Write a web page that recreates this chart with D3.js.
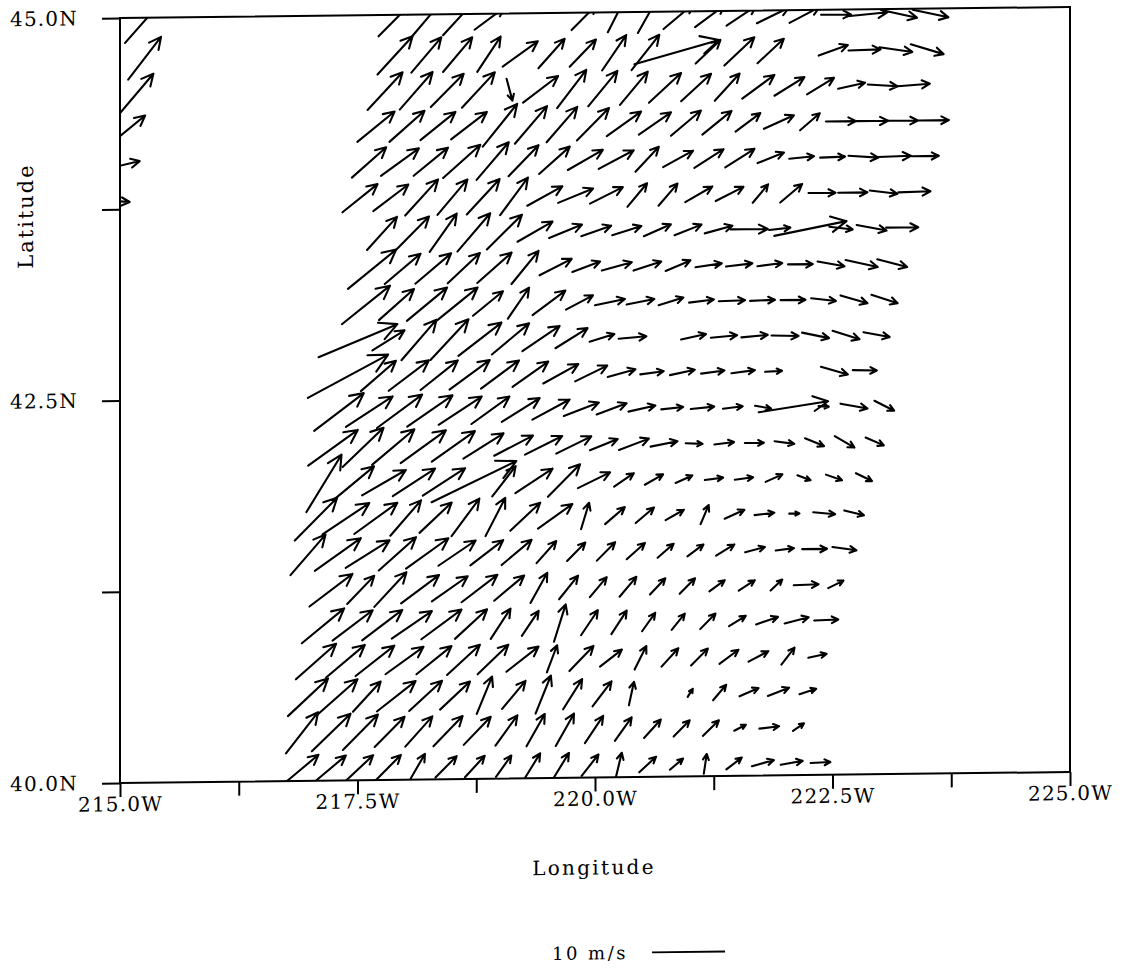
<!DOCTYPE html>
<html>
<head>
<meta charset="utf-8">
<script src="https://cdn.jsdelivr.net/npm/d3@7"></script>
<style>
  body { margin: 0; background: #fff; }
  text { font-family: "DejaVu Serif", serif; fill: #000; }
</style>
</head>
<body>
<div id="chart"></div>
<script>
// wind vectors, one row per grid latitude (bottom to top), u / v in m/s
var N = null;

var rowLat = [40.081, 40.314, 40.546, 40.779, 41.012, 41.244, 41.477, 41.710, 41.943, 42.175, 42.408,
              42.641, 42.873, 43.106, 43.339, 43.572, 43.804, 44.037, 44.270, 44.502, 44.735, 44.968];

// longitude of the first cell of each row and the grid step along the row
var rowLon0 = [216.916, 216.916, 216.979, 217.063, 217.137, 217.221, 216.979, 217.063, 217.147, 217.242, 217.305,
               217.400, 217.505, 217.589, 217.653, 217.758, 214.933, 215.019, 215.084, 215.171, 215.259, 215.242];
var rowDlon = [0.3032, 0.3074, 0.3095, 0.3105, 0.3116, 0.3126, 0.3137, 0.3147, 0.3158, 0.3168, 0.3189,
               0.3200, 0.3211, 0.3211, 0.3221, 0.3221, 0.3242, 0.3253, 0.3263, 0.3274, 0.3295, 0.3316];

var rowU = [
  [4.5, 4.1, 3.7, 3.4, 2.1, 2.9, 2.7, 2.1, 2.1, 2.1, 2.3, 0.8, 2.3, 1.8, 0.4, 2.1, 3.0, 3.0, 2.7],
  [4.4, 5.3, 4.8, 4.1, 3.7, 4.0, 3.7, 3.0, 2.5, 2.5, 2.5, 2.3, 2.3, 2.2, 2.2, 1.6, 2.7, 1.5],
  [5.5, 5.5, 3.8, 5.3, 4.5, 4.1, 2.1, 3.2, 2.1, 2.6, 2.6, 0.7, N, 0.7, 1.8, 2.6, 2.9, 2.3],
  [5.5, 5.3, 5.3, 5.2, 4.8, 4.5, 4.2, 4.4, 1.4, 3.3, 3.0, 1.6, 2.3, 2.3, 2.6, 2.7, 1.8, 2.5],
  [5.8, 5.5, 5.5, 5.5, 5.5, 4.4, 2.7, 2.3, 1.6, 2.3, 2.1, 1.8, 1.8, 2.1, 2.3, 3.0, 3.3, 3.3],
  [5.9, 3.7, 4.4, 5.2, 4.9, 4.9, 4.1, 2.3, 2.6, 2.3, 2.3, 2.1, 2.1, 2.1, 2.2, 1.6, 3.4, 2.1],
  [4.8, 6.3, 6.0, 5.1, 5.8, 5.1, 4.5, 4.1, 2.7, 2.5, 2.5, 2.5, 2.2, 2.2, 2.5, 2.7, 2.5, 3.4, 3.3],
  [5.8, 6.4, 5.9, 4.2, 4.4, 3.8, 2.7, 4.1, 4.7, 1.1, 2.7, 2.5, 2.5, 1.1, 2.7, 2.7, 1.4, 3.0, 2.7],
  [4.8, 5.5, 6.0, 5.8, 5.8, 11.6, 3.2, 5.1, 4.4, 4.4, 2.7, 2.5, 2.3, 2.5, 2.5, 2.3, 1.8, 2.2, 2.2],
  [6.8, 5.6, 5.8, 6.2, 5.9, 5.5, 5.3, 5.1, 4.8, 3.8, 4.1, 3.7, 2.3, 2.7, 2.6, 2.7, 2.6, 2.7, 2.5],
  [6.8, 6.4, 6.2, 6.2, 5.9, 5.2, 5.2, 5.1, 4.8, 4.1, 3.7, 3.0, 3.2, 2.7, 2.2, 9.5, 1.4, 3.7, 2.7],
  [11.0, 4.8, 5.5, 5.1, 5.5, 5.2, 4.9, 4.8, 4.4, 3.8, 3.2, 3.4, 3.2, 3.2, 2.3, N, 3.7, 3.3],
  [10.8, 4.4, 4.8, 5.2, 5.9, 5.1, 5.1, 4.4, 3.4, 3.8, N, 3.4, 3.6, 3.6, 3.7, 3.7, 3.7, 3.6],
  [6.6, 4.8, 5.5, 5.5, 4.1, 2.9, 4.5, 3.7, 4.1, 3.8, 3.4, 3.4, 3.6, 3.4, 3.4, 3.4, 3.7, 3.6],
  [6.6, 4.9, 4.9, 4.4, 4.7, 3.7, 4.4, 3.8, 4.1, 3.8, 3.4, 3.6, 3.6, 3.4, 3.4, 3.7, 4.4, 4.1],
  [4.1, 4.5, 3.7, 4.5, 4.8, 4.8, 4.5, 4.1, 4.0, 3.7, 3.7, 3.8, 5.1, 2.9, 9.9, 3.2, 4.1, 4.4],
  [4.4, N, N, N, N, N, N, N, 4.8, 4.8, 4.5, 4.1, 4.5, 3.8, 4.8, 4.8, 4.5, 2.7, 2.6, 3.7, 3.8, 2.1, 3.0, 3.7, 4.0, 3.8, 4.4],
  [4.9, N, N, N, N, N, N, N, 4.7, 5.2, 4.7, 5.1, 4.4, 4.1, 4.2, 4.8, 4.8, 3.2, 4.1, 4.0, 4.0, 3.6, 3.4, 3.4, 4.1, 4.5, 3.7],
  [4.7, N, N, N, N, N, N, N, 5.1, 4.8, 4.8, 4.9, 4.7, 4.4, 4.2, 4.4, 4.7, 4.4, 4.1, 4.0, 3.4, 4.1, 2.7, 4.1, 4.4, 4.1, 4.1],
  [4.7, N, N, N, N, N, N, N, 4.8, 4.5, 4.5, 4.5, 0.8, 4.8, 4.0, 4.0, 3.8, 4.4, 4.1, 3.4, 4.4, 4.1, 3.7, 3.7, 4.1, 4.4],
  [4.5, N, N, N, N, N, N, N, 4.8, 4.1, 4.0, 3.2, 4.8, 3.6, 3.6, 3.3, 3.8, 11.6, 3.4, 4.1, 3.6, N, 4.0, 4.4, 4.5, 4.5],
  [4.9, N, N, N, N, N, N, N, 4.5, 4.1, 4.1, 4.1, N, N, 3.4, 2.1, 2.5, 4.1, 4.1, 4.1, 4.4, 4.1, 4.1, 5.5, 4.9, 4.9]
];

var rowV = [
  [3.7, 3.4, 3.4, 3.4, 3.6, 2.9, 2.9, 2.9, 3.4, 3.4, 2.9, 3.3, 2.1, 1.5, 2.7, 1.6, 0.8, 0.5, 0.1],
  [5.6, 5.1, 4.8, 4.1, 4.1, 4.1, 3.8, 4.1, 4.4, 4.4, 3.7, 3.2, 2.5, 2.2, 2.1, 0.8, 0.3, 1.0],
  [5.1, 4.8, 4.1, 4.1, 4.1, 3.8, 5.1, 3.8, 5.2, 4.1, 3.4, 3.2, N, 1.1, 2.1, 1.1, 1.1, 0.7],
  [4.8, 4.4, 4.1, 3.7, 3.8, 4.1, 4.0, 3.4, 3.7, 3.4, 2.3, 3.2, 2.5, 2.3, 1.9, 1.4, 2.3, 0.5],
  [4.7, 4.1, 4.1, 3.7, 4.0, 4.0, 4.1, 3.4, 5.1, 3.4, 3.2, 2.5, 2.2, 2.1, 1.4, 1.0, 0.8, 0.1],
  [4.4, 3.8, 4.7, 3.8, 3.4, 3.7, 3.4, 4.1, 3.2, 2.7, 2.7, 2.2, 2.1, 1.5, 1.4, 1.5, 0.1, 1.0],
  [5.5, 4.4, 3.7, 4.5, 4.1, 3.4, 3.4, 3.4, 3.0, 2.5, 2.5, 2.2, 1.9, 1.6, 1.5, 0.7, 0.3, 0, -0.5],
  [5.8, 4.2, 4.2, 4.8, 4.1, 5.1, 5.2, 3.8, 3.3, 3.6, 2.3, 2.1, 1.4, 2.6, 1.2, 0.3, 0, -0.3, -0.7],
  [7.8, 4.5, 3.4, 3.7, 3.7, 5.5, 4.1, 3.3, 4.4, 2.1, 1.8, 1.4, 1.0, 0.3, 0.3, 1.0, -0.7, -0.8, -1.1],
  [4.8, 5.3, 4.8, 4.4, 4.1, 3.4, 2.7, 2.5, 2.3, 1.5, 1.5, 0.7, -0.1, 0.3, 0, -0.4, -1.1, -1.6, -1.1],
  [5.1, 4.1, 4.5, 4.2, 3.8, 3.7, 3.2, 2.7, 1.8, 1.5, 0.8, 0.3, 0.3, 0.3, -0.4, 1.4, -0.1, -0.7, -1.4],
  [5.8, 4.1, 4.1, 4.0, 4.0, 3.8, 3.4, 2.6, 2.1, 1.0, 0.4, 0.7, 0.4, 0.4, 0.1, N, -1.1, -0.1],
  [4.4, 2.7, 5.5, 5.5, 4.5, 4.2, 3.4, 2.7, 1.0, 0.3, N, 0.7, 0.3, 0.3, -0.1, -0.8, -1.2, -0.7],
  [5.2, 4.2, 4.5, 4.4, 3.3, 4.2, 3.3, 1.9, 0.8, 0.7, 1.0, 0.4, 0.1, 0.1, 0, -0.4, -1.1, -1.2],
  [5.3, 4.1, 4.1, 4.1, 4.1, 4.5, 2.2, 1.4, 1.1, 1.2, 1.4, 0.5, 0.4, 0.4, 0, -0.7, -1.0, -1.1],
  [4.5, 4.5, 5.2, 5.2, 4.7, 2.7, 1.8, 1.4, 1.2, 1.6, 1.4, 1.0, 0, 0.3, 1.9, -0.4, -0.8, 0],
  [-0.3, N, N, N, N, N, N, N, 3.8, 3.6, 4.9, 4.8, 4.8, 5.1, 2.6, 1.9, 2.2, 3.2, 3.0, 2.1, 1.9, 2.5, 2.5, 0, 0, -0.5, 0.1],
  [1.1, N, N, N, N, N, N, N, 4.1, 3.7, 3.8, 4.5, 5.1, 4.2, 3.7, 2.7, 2.5, 3.4, 2.2, 2.5, 2.5, 1.4, 0.3, 0.1, -0.3, 0.1, 0],
  [3.8, N, N, N, N, N, N, N, 4.1, 4.2, 3.8, 3.7, 5.8, 5.1, 4.8, 4.4, 3.3, 3.0, 3.4, 3.2, 2.5, 1.8, 2.3, 0, 0, 0, 0],
  [5.5, N, N, N, N, N, N, N, 5.1, 5.1, 4.5, 4.8, -3.0, 3.6, 5.2, 4.8, 4.5, 4.0, 3.7, 3.7, 3.2, 2.5, 2.2, 0.8, -0.3, 0.3],
  [5.8, N, N, N, N, N, N, N, 5.2, 4.8, 4.7, 4.8, 3.4, 4.0, 3.7, 4.8, 4.8, 3.2, 3.2, 3.8, 3.3, N, 1.4, 0.1, -0.7, -1.4],
  [5.5, N, N, N, N, N, N, N, 4.5, 4.8, 4.4, 3.0, N, N, 3.4, 4.1, 4.4, 3.4, 3.0, 2.7, 2.1, 2.1, 0, 0.5, -1.1, -1.1]
];

// axis ticks
var xTicks = [215, 216.25, 217.5, 218.75, 220, 221.25, 222.5, 223.75, 225];
var xLabels = [215, 217.5, 220, 222.5, 225];
var yTicks = [40, 41.25, 42.5, 43.75, 45];
var yLabels = [40, 42.5, 45];
var refSpeed = 10;

var svgWidth = 1124, svgHeight = 970;
var margin = {top: 18, right: 54, bottom: 187, left: 120};
var width = svgWidth - margin.left - margin.right;
var height = svgHeight - margin.top - margin.bottom;

var svg = d3.select("#chart").append("svg")
    .attr("width", svgWidth)
    .attr("height", svgHeight);

// the original page is a slightly sheared scan
var page = svg.append("g")
    .attr("transform", "translate(120,0) skewY(-0.663) translate(-120,0)");

var chartGroup = page.append("g")
    .attr("transform", `translate(${margin.left}, ${margin.top})`);

var xScale = d3.scaleLinear().domain([215, 225]).range([0, width]);
var yScale = d3.scaleLinear().domain([40, 45]).range([height, 0]);
var vScale = d3.scaleLinear().domain([0, 10]).range([0, 73]);

// flatten the rows into vectors
var vectors = [];
rowLat.forEach((lat, j) => {
    rowU[j].forEach((u, i) => {
        if (u === null) return;
        vectors.push({lon: rowLon0[j] + i * rowDlon[j], lat: lat, u: u, v: rowV[j][i]});
    });
});

// arrow centred on its grid point, head size grows with length
function arrowPath(cx, cy, dx, dy) {
    var len = Math.sqrt(dx * dx + dy * dy);
    if (len < 0.5) return "";
    var tx = cx - dx / 2, ty = cy - dy / 2;
    var hx = cx + dx / 2, hy = cy + dy / 2;
    var h = 0.2 * len + 2.5;
    var ang = Math.atan2(dy, dx), a = 27 * Math.PI / 180;
    var b1x = hx - h * Math.cos(ang - a), b1y = hy - h * Math.sin(ang - a);
    var b2x = hx - h * Math.cos(ang + a), b2y = hy - h * Math.sin(ang + a);
    return `M${tx},${ty}L${hx},${hy}M${b1x},${b1y}L${hx},${hy}L${b2x},${b2y}`;
}

chartGroup.append("clipPath").attr("id", "plotClip")
  .append("rect").attr("width", width).attr("height", height);

chartGroup.append("g")
    .attr("clip-path", "url(#plotClip)")
  .selectAll("path")
    .data(vectors)
    .enter()
    .append("path")
    .attr("d", d => arrowPath(xScale(d.lon), yScale(d.lat), vScale(d.u), -vScale(d.v)))
    .attr("fill", "none")
    .attr("stroke", "#000")
    .attr("stroke-width", 2.1)
    .attr("stroke-linecap", "round")
    .attr("stroke-linejoin", "round");

// frame
chartGroup.append("rect")
    .attr("width", width)
    .attr("height", height)
    .attr("fill", "none")
    .attr("stroke", "#000")
    .attr("stroke-width", 2);

// axes
var xAxis = d3.axisBottom(xScale)
    .tickValues(xTicks)
    .tickSize(14)
    .tickPadding(0)
    .tickFormat(d => xLabels.indexOf(d) >= 0 ? d3.format(".1f")(d) + "W" : "");

var yAxis = d3.axisLeft(yScale)
    .tickValues(yTicks)
    .tickSize(18)
    .tickPadding(24)
    .tickFormat(d => yLabels.indexOf(d) >= 0 ? d3.format(".1f")(d) + "N" : "");

var gx = chartGroup.append("g")
    .attr("transform", `translate(0, ${height})`)
    .call(xAxis);

var gy = chartGroup.append("g")
    .call(yAxis);

[gx, gy].forEach(g => {
    g.select(".domain").remove();
    g.selectAll(".tick line").attr("stroke", "#000").attr("stroke-width", 2);
    g.selectAll(".tick text")
        .attr("fill", "#000")
        .style("font-family", '"DejaVu Serif", serif')
        .style("font-size", "20px")
        .style("letter-spacing", "1.2px");
});

// axis titles
page.append("text")
    .attr("x", 594)
    .attr("y", 880)
    .attr("text-anchor", "middle")
    .style("font-size", "20px")
    .style("letter-spacing", "2.3px")
    .text("Longitude");

page.append("text")
    .attr("transform", "translate(33, 215) rotate(-90)")
    .attr("text-anchor", "middle")
    .style("font-size", "21px")
    .style("letter-spacing", "2px")
    .text("Latitude");

// reference vector
page.append("text")
    .attr("x", 552)
    .attr("y", 965)
    .style("font-size", "18px")
    .style("letter-spacing", "2.5px")
    .text(refSpeed + " m/s");

page.append("line")
    .attr("x1", 652)
    .attr("x2", 652 + vScale(refSpeed))
    .attr("y1", 958.5)
    .attr("y2", 958.5)
    .attr("stroke", "#000")
    .attr("stroke-width", 1.9);
</script>
</body>
</html>
